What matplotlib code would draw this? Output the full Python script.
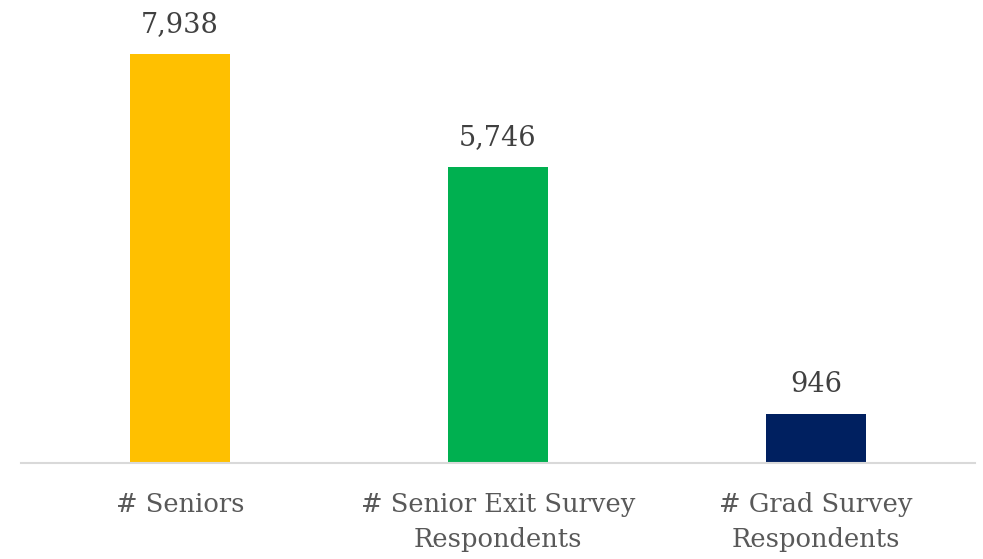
import matplotlib.pyplot as plt

categories = ["# Seniors", "# Senior Exit Survey\nRespondents", "# Grad Survey\nRespondents"]
values = [7938, 5746, 946]
colors = ["#FFC000", "#00B050", "#002060"]

plt.rcParams['font.family'] = ['DejaVu Serif']

fig = plt.figure(figsize=(9.83, 5.59), dpi=100)
# axes placed in pixel terms of the reference
ax = fig.add_axes([21 / 983, 1 - 463 / 559, (975 - 21) / 983, (463 - 8) / 559])

x = range(len(categories))
bars = ax.bar(x, values, width=0.315, color=colors)
ax.set_xlim(-0.5, len(categories) - 0.5)
ax.set_ylim(0, 7938 * 455 / 409)

for b, v in zip(bars, values):
    ax.text(b.get_x() + b.get_width() / 2, v + 310, f"{v:,}",
            ha="center", va="bottom", fontsize=19.5, color="#404040")

ax.set_xticks(list(x))
ax.set_xticklabels(categories, fontsize=18.5, color="#595959", linespacing=1.5)
ax.tick_params(axis="x", length=0, pad=21)
ax.set_yticks([])
for s in ["top", "right", "left"]:
    ax.spines[s].set_visible(False)
ax.spines["bottom"].set_color("#D9D9D9")
ax.spines["bottom"].set_linewidth(1.5)

fig.savefig("out.png", dpi=100)
